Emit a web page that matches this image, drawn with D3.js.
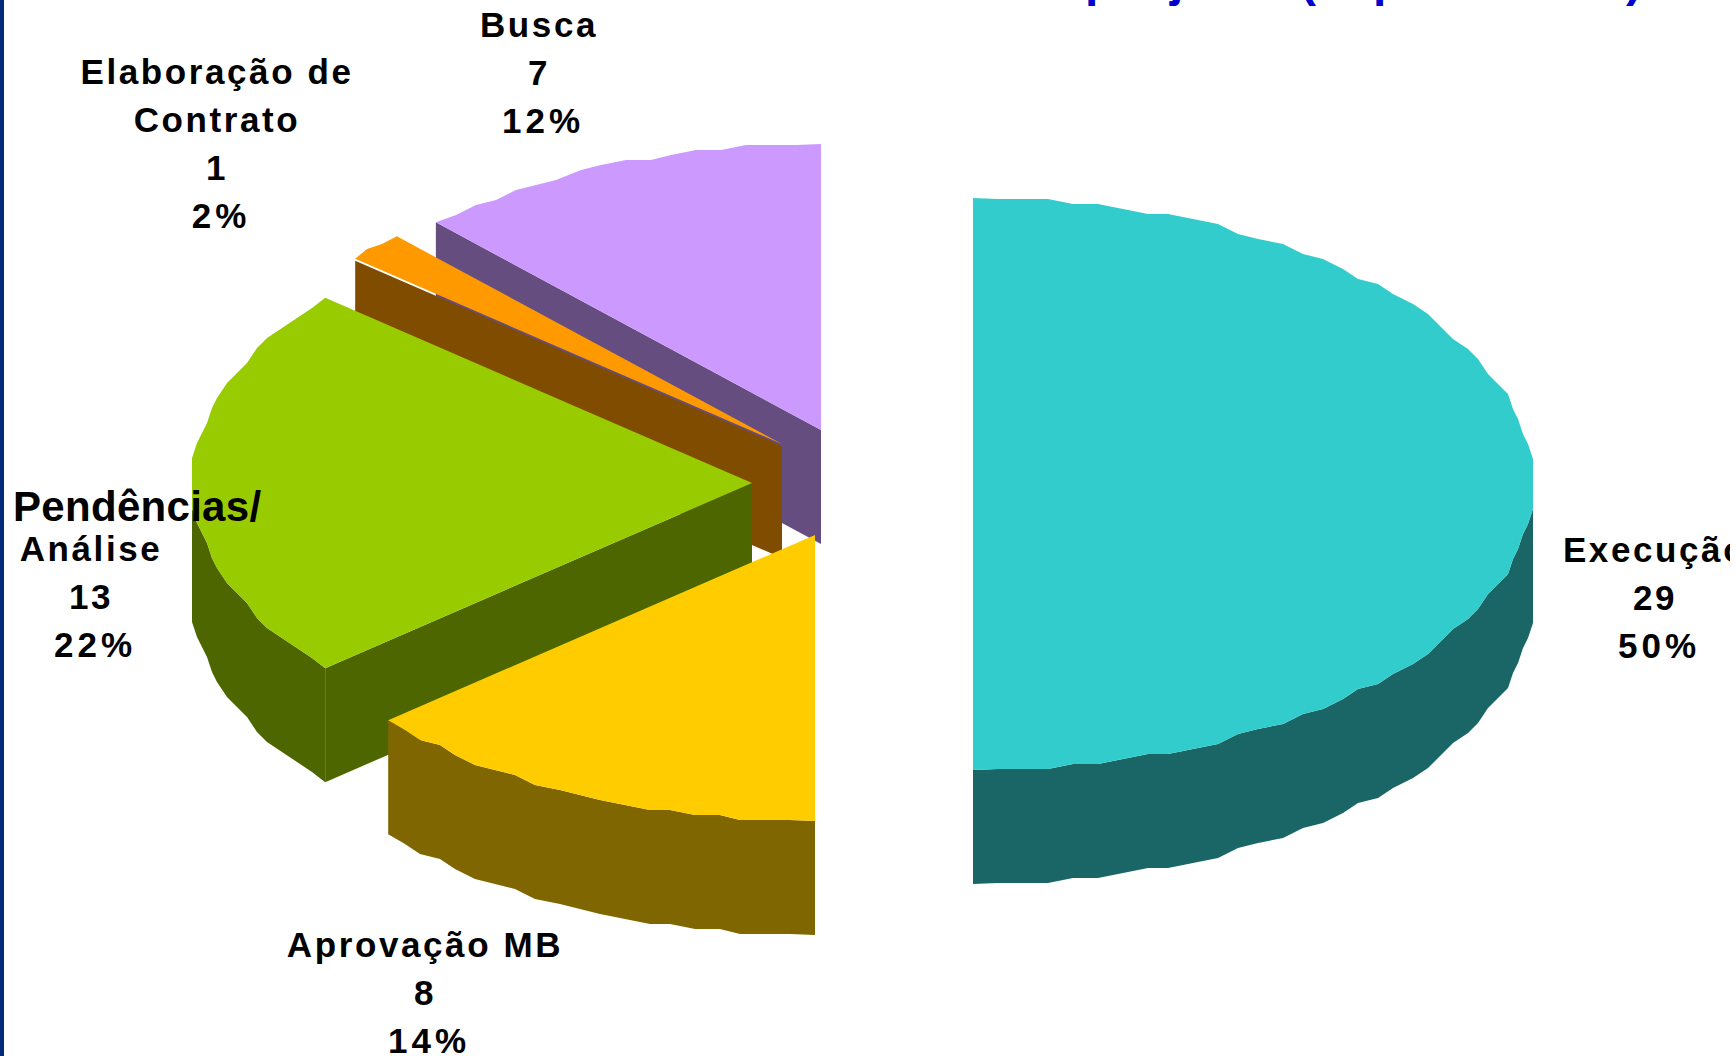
<!DOCTYPE html>
<html>
<head>
<meta charset="utf-8">
<script src="https://d3js.org/d3.v7.min.js"></script>
<style>
  html, body { margin: 0; padding: 0; background: #fff; overflow: hidden; }
  text { font-family: "Liberation Sans", Arial, sans-serif; font-weight: bold; fill: #000; }
</style>
</head>
<body>
<svg class="container"></svg>
<script>
const categories = ['Execução', 'Aprovação MB', 'Pendências/ Análise', 'Elaboração de Contrato', 'Busca'];
const values = [29, 8, 13, 1, 7];
const percentLabels = ['50%', '14%', '22%', '2%', '12%'];
const topColors = ['#33CCCC', '#FFCC00', '#99CC00', '#FF9900', '#CC99FF'];
const sideColors = ['#1A6666', '#806600', '#4D6600', '#804D00', '#664D80'];
// only the feet of the slide title are on the page, these are the glyphs that can be told apart
const titleGlyphs = ['p', 'j', '(', 'p', ')'];

// each slice is pulled out of the pie, so each has its own apex
const apexes = [[973, 484], [815, 535], [752, 483], [782, 444], [821, 430]];
const rx = 560, ry = 286, depth = 114;
const w = 1736, h = 1056;

const svg = d3.select('.container').attr('width', w).attr('height', h);

const slices = d3.pie().value(d => d).sort(null)(values);
slices.forEach((s, i) => { s.apex = apexes[i]; s.index = i; });

const rim = (s, a, dy = 0) => [s.apex[0] + rx * Math.sin(a), s.apex[1] - ry * Math.cos(a) + dy];

// the source rim is a coarse polygon with its points snapped to a rough grid
const snap = 5, arcStep = 0.045;
const arcPoints = (s, a0, a1, dy = 0) => {
  const n = Math.max(2, Math.ceil((a1 - a0) / arcStep));
  return d3.range(n + 1).map(k => {
    const p = rim(s, a0 + (a1 - a0) * k / n);
    if (k === 0 || k === n) return [p[0], p[1] + dy];
    return [
      s.apex[0] + Math.round((p[0] - s.apex[0]) / snap) * snap,
      s.apex[1] + Math.round((p[1] - s.apex[1]) / snap) * snap + dy
    ];
  });
};
const line = d3.line();

// painted back to front, the way the original stacks them
const order = [4, 3, 2, 1, 0];
const pieGroup = svg.append('g').attr('class', 'pie');

order.forEach(i => {
  const s = slices[i];
  const g = pieGroup.append('g').attr('class', 'slice');

  // flat cut face on the start angle
  const gap = i === 3 ? 2 : 0;
  const p = rim(s, s.startAngle);
  g.append('path')
    .attr('d', line([
      [s.apex[0], s.apex[1] + gap], [p[0], p[1] + gap],
      [p[0], p[1] + depth], [s.apex[0], s.apex[1] + depth]
    ]) + 'Z')
    .attr('fill', sideColors[i]);

  // outer wall, only the part facing front
  const a0 = Math.max(s.startAngle, Math.PI / 2);
  const a1 = Math.min(s.endAngle, 3 * Math.PI / 2);
  if (a1 > a0) {
    g.append('path')
      .attr('d', line(arcPoints(s, a0, a1).concat(arcPoints(s, a0, a1, depth).reverse())) + 'Z')
      .attr('fill', sideColors[i]);
  }

  g.append('path')
    .attr('d', line([s.apex].concat(arcPoints(s, s.startAngle, s.endAngle))) + 'Z')
    .attr('fill', topColors[i]);
});

// labels
const labelFont = 35, labelSpacing = 2.6, lineGap = 48;
const labelLines = [
  { x: 1655, y: 562, lines: [categories[0], values[0], percentLabels[0]] },
  { x: 425, y: 957, lines: [categories[1], values[1], percentLabels[1]] },
  { x: 91, y: 561, lines: ['Análise', values[2], percentLabels[2]] },
  { x: 217, y: 84, lines: ['Elaboração de', 'Contrato', values[3], percentLabels[3]] },
  { x: 539, y: 37, lines: [categories[4], values[4], percentLabels[4]] }
];

const labels = svg.append('g').attr('class', 'labels');
labelLines.forEach(l => {
  const last = l.lines.length - 1;
  labels.selectAll(null).data(l.lines).join('text')
    .attr('x', (d, k) => k === last ? l.x + 4 : l.x)
    .attr('y', (d, k) => l.y + k * lineGap)
    .attr('text-anchor', 'middle')
    .attr('font-size', labelFont)
    .attr('letter-spacing', (d, k) => k === last ? 4 : labelSpacing)
    .text(d => d);
});

labels.append('text')
  .attr('x', 13).attr('y', 521)
  .attr('font-size', 42)
  .attr('letter-spacing', 0.3)
  .text('Pendências/');

// title sits above the page, just the descenders show
const titleX = [1085, 1170, 1300, 1373, 1626];
svg.append('g').attr('class', 'title').selectAll('text').data(titleGlyphs).join('text')
  .attr('x', (d, i) => titleX[i])
  .attr('y', -4)
  .attr('font-size', 48)
  .style('fill', '#0000CC')
  .text(d => d);

// right edge of the slide cuts the Execução label off
svg.append('rect').attr('x', 1730).attr('y', 0).attr('width', 6).attr('height', h).attr('fill', '#fff');
// slide border
svg.append('rect').attr('x', 0).attr('y', 0).attr('width', 4).attr('height', h).attr('fill', '#032B7A');
</script>
</body>
</html>
